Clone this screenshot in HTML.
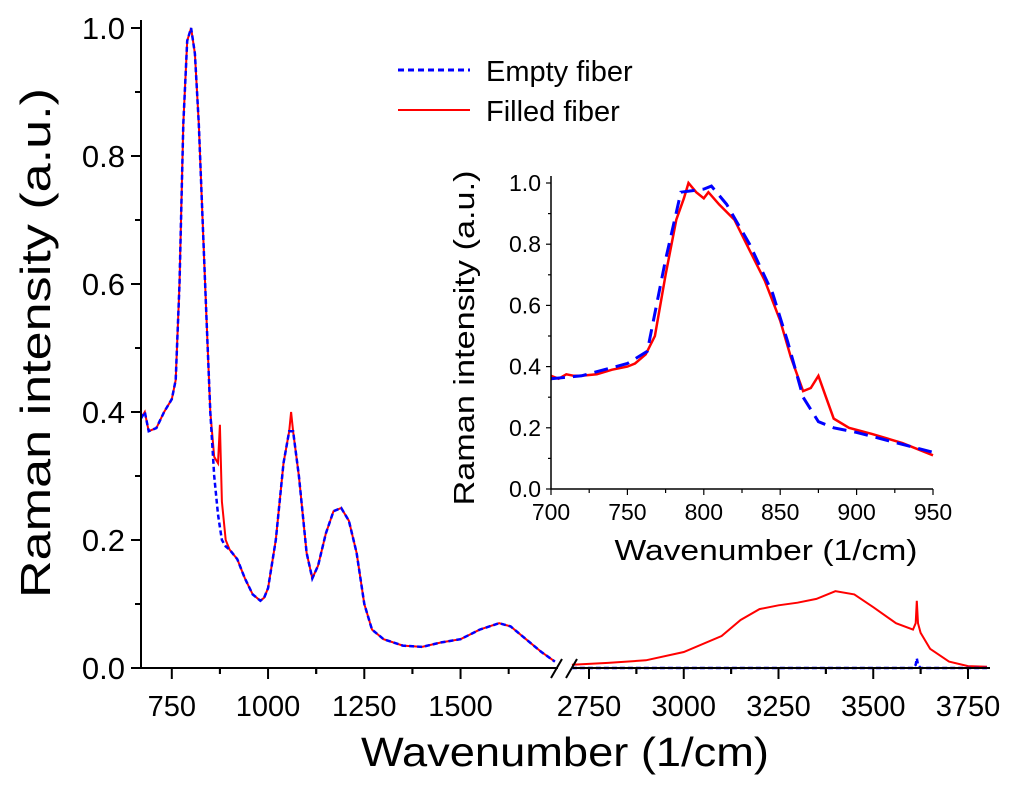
<!DOCTYPE html>
<html><head><meta charset="utf-8"><style>
html,body{margin:0;padding:0;background:#fff;}
svg{display:block;font-family:"Liberation Sans",Arial,sans-serif;}
</style></head><body>
<svg id="c" width="1024" height="792" viewBox="0 0 1024 792" xmlns="http://www.w3.org/2000/svg"></svg>
<script>
// ---- data ----
const leftWn = [670,680,690,710,730,750,760,770,780,790,800,810,820,830,840,850,860,870,875,880,890,900,920,940,960,980,990,1000,1020,1040,1055,1060,1065,1080,1100,1115,1130,1150,1170,1190,1210,1230,1250,1270,1300,1350,1400,1450,1500,1550,1600,1630,1670,1710,1745];
const leftRed = [0.39,0.40,0.37,0.375,0.40,0.42,0.45,0.60,0.85,0.98,1.0,0.96,0.85,0.70,0.55,0.40,0.33,0.32,0.38,0.26,0.20,0.185,0.17,0.14,0.115,0.105,0.11,0.125,0.20,0.32,0.37,0.40,0.37,0.30,0.18,0.14,0.16,0.21,0.245,0.25,0.23,0.18,0.10,0.06,0.045,0.035,0.033,0.04,0.045,0.06,0.07,0.065,0.045,0.025,0.01];
const leftBlue = [0.39,0.40,0.37,0.375,0.40,0.42,0.45,0.60,0.85,0.98,1.0,0.96,0.85,0.70,0.55,0.40,0.30,0.24,0.22,0.20,0.19,0.185,0.17,0.14,0.115,0.105,0.11,0.125,0.20,0.32,0.37,0.37,0.37,0.30,0.18,0.14,0.16,0.21,0.245,0.25,0.23,0.18,0.10,0.06,0.045,0.035,0.033,0.04,0.045,0.06,0.07,0.065,0.045,0.025,0.01];
const rightWn = [2705,2800,2900,3000,3100,3150,3200,3250,3300,3350,3400,3450,3500,3560,3605,3612,3615,3618,3625,3650,3700,3750,3800];
const rightRed = [0.005,0.008,0.012,0.025,0.05,0.075,0.092,0.098,0.102,0.108,0.12,0.115,0.095,0.07,0.06,0.07,0.105,0.07,0.055,0.03,0.01,0.003,0.002];
const rightBlue = [0,0,0,0,0,0,0,0,0,0,0,0,0,0,0,0.005,0.015,0.005,0,0,0,0,0];
const insetWnRed = [700,705,710,715,720,730,740,750,755,762,768,775,782,787,790,795,800,803,810,820,830,840,850,857,865,870,875,880,885,895,910,930,950];
const insetRed = [0.37,0.36,0.375,0.37,0.37,0.375,0.39,0.40,0.41,0.44,0.50,0.70,0.88,0.95,1.0,0.97,0.95,0.97,0.93,0.88,0.78,0.68,0.55,0.43,0.32,0.33,0.37,0.30,0.23,0.20,0.18,0.15,0.11];
const insetWnBlue = [700,720,750,763,775,785,800,805,815,830,845,855,865,875,885,900,950];
const insetBlue = [0.36,0.37,0.41,0.45,0.75,0.97,0.98,0.99,0.93,0.80,0.64,0.48,0.30,0.22,0.20,0.185,0.12];
const mainYTicks = [0.0,0.2,0.4,0.6,0.8,1.0];
const leftXTicks = [750,1000,1250,1500];
const rightXTicks = [2750,3000,3250,3500,3750];
const insetXTicks = [700,750,800,850,900,950];
const insetYTicks = [0.0,0.2,0.4,0.6,0.8,1.0];

// ---- axes ----
const NS="http://www.w3.org/2000/svg";
const svg=document.getElementById('c');
function mk(tag,attrs,parent){const e=document.createElementNS(NS,tag);for(const k in attrs)e.setAttribute(k,attrs[k]);(parent||svg).appendChild(e);return e;}
const yM=v=>668-v*640;
const xL=w=>141+(w-670)*0.385;
const xR=w=>589+(w-2750)*0.379;
const xI=w=>551+(w-700)*1.528;
const yI=v=>489-v*306;
function pathD(xs,ys,fx,fy){return xs.map((w,i)=>(i?'L':'M')+fx(w).toFixed(1)+','+fy(ys[i]).toFixed(1)).join(' ');}

let e;
e=mk('path',{d:pathD(leftWn,leftRed,xL,yM),fill:'none',stroke:'#f00','stroke-width':2});


e=mk('path',{d:pathD(leftWn,leftBlue,xL,yM),fill:'none',stroke:'#00f','stroke-width':2.5,'stroke-dasharray':'5,3'});


e=mk('path',{d:pathD(rightWn,rightRed,xR,yM),fill:'none',stroke:'#f00','stroke-width':2});


e=mk('path',{d:pathD(rightWn,rightBlue,xR,yM),fill:'none',stroke:'#00f','stroke-width':2.5,'stroke-dasharray':'5,3'});



e=mk('path',{d:'M141,20 L141,668 L558,668 M573,668 L990,668',stroke:'#000','stroke-width':2,fill:'none'});


e=mk('path',{d:'M551,678 L562,659 M566,678 L577,659',stroke:'#000','stroke-width':2,fill:'none'});


mainYTicks.forEach(v=>{
  mk('line',{x1:131,x2:141,y1:yM(v),y2:yM(v),stroke:'#000','stroke-width':2});
  if(v<1)mk('line',{x1:135,x2:141,y1:yM(v+0.1),y2:yM(v+0.1),stroke:'#000','stroke-width':2});
  const t=mk('text',{x:125,y:yM(v)+11,'text-anchor':'end','font-size':31});
  t.textContent=v.toFixed(1);
  
  
});
function xt(ticks,fx,minMin,maxMax){
  ticks.forEach(w=>{
    mk('line',{x1:fx(w),x2:fx(w),y1:668,y2:679,stroke:'#000','stroke-width':2});
    [w-125,w+125].forEach(m=>{if(m>minMin&&m<maxMax)mk('line',{x1:fx(m),x2:fx(m),y1:668,y2:674,stroke:'#000','stroke-width':2});});
    const t=mk('text',{x:fx(w),y:716,'text-anchor':'middle','font-size':29});
    t.textContent=w;
    
    
  });
}
xt(leftXTicks,xL,670,1745);
xt(rightXTicks,xR,2710,3800);
e=mk('text',{x:565,y:766,'text-anchor':'middle','font-size':41,textLength:408,lengthAdjust:'spacingAndGlyphs'});
e.textContent='Wavenumber (1/cm)';


e=mk('text',{x:0,y:0,transform:'translate(50,343) rotate(-90)','text-anchor':'middle','font-size':42,textLength:510,lengthAdjust:'spacingAndGlyphs'});
e.textContent='Raman intensity (a.u.)';



e=mk('line',{x1:398,x2:470,y1:70,y2:70,stroke:'#00f','stroke-width':3,'stroke-dasharray':'6,4'});


e=mk('text',{x:486,y:81,'font-size':29});e.textContent='Empty fiber';


e=mk('line',{x1:398,x2:470,y1:110,y2:110,stroke:'#f00','stroke-width':2});


e=mk('text',{x:486,y:121,'font-size':29});e.textContent='Filled fiber';



e=mk('path',{d:pathD(insetWnRed,insetRed,xI,yI),fill:'none',stroke:'#f00','stroke-width':2.5});


e=mk('path',{d:pathD(insetWnBlue,insetBlue,xI,yI),fill:'none',stroke:'#00f','stroke-width':3,'stroke-dasharray':'14,8'});


e=mk('path',{d:'M551,176 L551,489 L933,489',stroke:'#000','stroke-width':1.5,fill:'none'});


insetYTicks.forEach(v=>{
  mk('line',{x1:546,x2:551,y1:yI(v),y2:yI(v),stroke:'#000','stroke-width':1.2});
  if(v<1)mk('line',{x1:548,x2:551,y1:yI(v+0.1),y2:yI(v+0.1),stroke:'#000','stroke-width':1.2});
  const t=mk('text',{x:541,y:yI(v)+8,'text-anchor':'end','font-size':23});
  t.textContent=v.toFixed(1);
  
  
});
insetXTicks.forEach(w=>{
  mk('line',{x1:xI(w),x2:xI(w),y1:489,y2:495,stroke:'#000','stroke-width':1.2});
  if(w<950)mk('line',{x1:xI(w+25),x2:xI(w+25),y1:489,y2:493,stroke:'#000','stroke-width':1.2});
  const t=mk('text',{x:xI(w),y:520,'text-anchor':'middle','font-size':23});
  t.textContent=w;
  
  
});
e=mk('text',{x:766,y:560,'text-anchor':'middle','font-size':29,textLength:303,lengthAdjust:'spacingAndGlyphs'});
e.textContent='Wavenumber (1/cm)';


e=mk('text',{x:0,y:0,transform:'translate(474,338) rotate(-90)','text-anchor':'middle','font-size':29,textLength:335,lengthAdjust:'spacingAndGlyphs'});
e.textContent='Raman intensity (a.u.)';


</script>
</body></html>
